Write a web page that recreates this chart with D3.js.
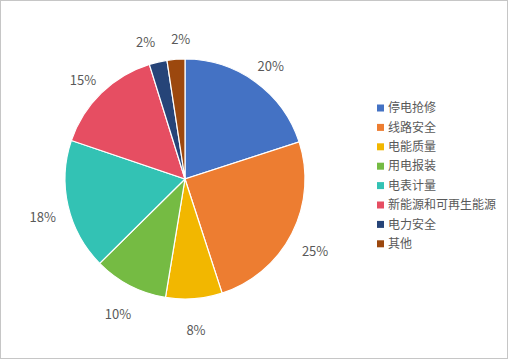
<!DOCTYPE html>
<html>
<head>
<meta charset="utf-8">
<script src="https://cdn.jsdelivr.net/npm/d3@7"></script>
<style>
  body { margin: 0; background: #fff; }
  svg { display: block; }
  text { font-family: "Noto Sans CJK SC", "Microsoft YaHei", sans-serif; fill: #595959; }
</style>
</head>
<body>
<svg id="chart" width="508" height="360"></svg>
<script>
var categories = ["停电抢修", "线路安全", "电能质量", "用电报装", "电表计量", "新能源和可再生能源", "电力安全", "其他"];
var values = [20, 25, 7.6, 10, 17.6, 15, 2.4, 2.4];
var colors = ["#4472C4", "#ED7D31", "#F2B700", "#75BB43", "#33C2B4", "#E64E62", "#264478", "#9C480E"];

var svg = d3.select("#chart");

// outer frame
svg.append("rect")
    .attr("x", 0.5).attr("y", 0.5)
    .attr("width", 507).attr("height", 358)
    .attr("fill", "#fff")
    .attr("stroke", "#c6c6c6");

var cx = 185, cy = 179, r = 120;
var data = categories.map(function(c, i) { return { name: c, value: values[i], color: colors[i] }; });

var pie = d3.pie().sort(null).value(function(d) { return d.value; });
var arc = d3.arc().innerRadius(0).outerRadius(r);
var labelArc = d3.arc().innerRadius(146).outerRadius(146);

var g = svg.append("g")
    .attr("transform", "translate(" + cx + "," + cy + ")");

var arcs = pie(data);

g.selectAll(".slice")
  .data(arcs)
  .enter().append("path")
    .attr("class", "slice")
    .attr("d", arc)
    .attr("fill", function(d) { return d.data.color; })
    .attr("stroke", "#fff")
    .attr("stroke-width", 1.2);

// labels sit a little below the pie's centre line, like Excel's outside-end labels
var labels = g.selectAll(".lbl")
  .data(arcs)
  .enter().append("text")
    .attr("class", "lbl")
    .attr("text-anchor", "middle")
    .attr("dy", "0.35em")
    .style("font-size", "13px")
    .text(function(d) { return Math.round(d.data.value) + "%"; })
    .each(function(d) {
      var c = labelArc.centroid(d);
      d.lx = c[0];
      d.ly = c[1] + 6;
      d.w = this.getComputedTextLength();
    });

// spread neighbouring labels that crowd each other
var minGap = 16;
for (var k = 0; k < arcs.length - 1; k++) {
  var a = arcs[k], b = arcs[k + 1];
  if (Math.abs(a.ly - b.ly) > 14) continue;
  var left = a.lx < b.lx ? a : b, right = left === a ? b : a;
  var gap = (right.lx - right.w / 2) - (left.lx + left.w / 2);
  if (gap < minGap) {
    var push = (minGap - gap) / 2;
    left.lx -= push;
    right.lx += push;
  }
}

labels.attr("transform", function(d) { return "translate(" + d.lx + "," + d.ly + ")"; });

// legend
var legend = svg.append("g").attr("transform", "translate(377,108)");
var item = legend.selectAll(".item")
  .data(data)
  .enter().append("g")
    .attr("class", "item")
    .attr("transform", function(d, i) { return "translate(0," + (i * 19.4) + ")"; });

item.append("rect")
    .attr("x", 0).attr("y", -3.5)
    .attr("width", 7).attr("height", 7)
    .attr("fill", function(d) { return d.color; });

item.append("text")
    .attr("x", 11)
    .attr("dy", "0.35em")
    .style("font-size", "12px")
    .text(function(d) { return d.name; });
</script>
</body>
</html>
